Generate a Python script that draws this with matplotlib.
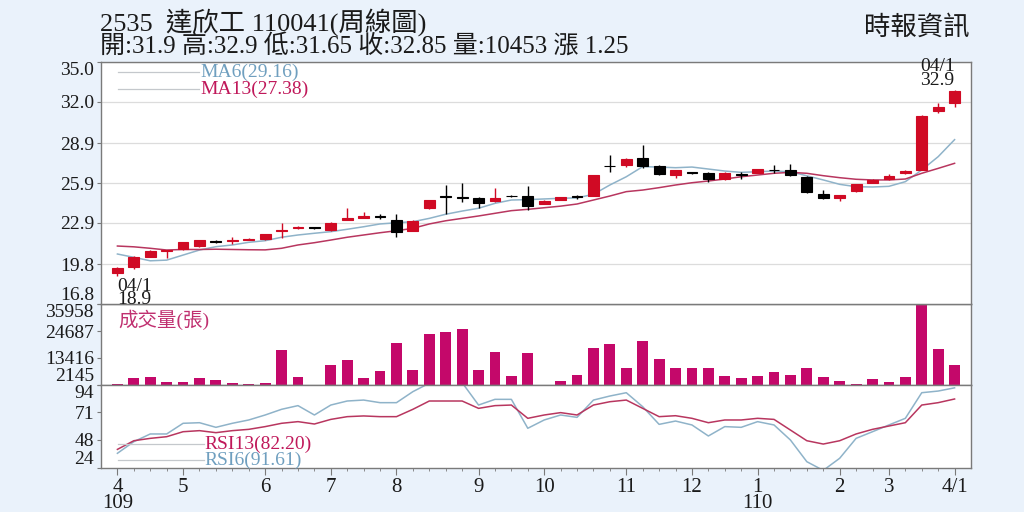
import matplotlib
matplotlib.use('Agg')
import matplotlib.pyplot as plt
import numpy as np

# fuentes: cifras en serif, chino con Noto CJK
FONT = ['Liberation Serif', 'Noto Sans CJK TC']
plt.rcParams['font.family'] = FONT

# datos semanales 109/04 - 110/04/01
opens = [19.15, 19.6, 20.36, 20.75, 20.9, 21.15, 21.55, 21.55, 21.62, 21.7,
         22.3, 22.5, 22.6, 22.35, 23.15, 23.3, 23.4, 23.15, 22.3, 24.05,
         24.9, 24.85, 24.8, 24.55, 24.95, 24.95, 24.35, 24.62, 24.9, 24.95,
         27.2, 27.25, 27.75, 27.2, 26.5, 26.75, 26.65, 26.2, 26.55, 26.67,
         26.9, 26.9, 26.35, 25.05, 24.75, 25.3, 25.92, 26.18, 26.63, 26.9,
         31.35, 31.9]
highs = [19.6, 20.4, 20.85, 20.85, 21.5, 21.65, 21.65, 21.85, 21.8, 22.1,
         22.9, 22.65, 22.6, 23.0, 24.0, 23.7, 23.6, 23.55, 23.1, 24.65,
         25.75, 25.9, 24.85, 25.5, 25.0, 25.65, 24.6, 24.85, 25.0, 26.5,
         28.0, 27.8, 28.75, 27.25, 26.9, 26.75, 26.7, 26.7, 26.75, 26.95,
         27.25, 27.3, 26.4, 25.35, 25.0, 25.85, 26.2, 26.55, 26.85, 31.0,
         31.95, 32.9]
lows = [18.9, 19.4, 20.3, 20.25, 20.85, 21.1, 21.4, 21.35, 21.6, 21.65,
        21.8, 22.45, 22.45, 22.3, 23.1, 23.3, 23.2, 21.85, 22.3, 23.95,
        23.6, 24.45, 24.0, 24.45, 24.85, 23.85, 24.3, 24.6, 24.7, 24.9,
        26.7, 27.1, 27.0, 26.5, 26.25, 26.6, 26.0, 26.15, 26.2, 26.65,
        26.65, 26.45, 25.15, 24.7, 24.55, 25.25, 25.9, 26.15, 26.6, 26.85,
        31.15, 31.65]
closes = [19.5, 20.3, 20.8, 20.85, 21.45, 21.6, 21.5, 21.65, 21.72, 22.05,
          22.4, 22.6, 22.5, 22.9, 23.3, 23.4, 23.35, 22.25, 23.05, 24.6,
          24.85, 24.8, 24.4, 24.8, 24.9, 24.15, 24.55, 24.82, 24.85, 26.5,
          27.15, 27.7, 27.2, 26.55, 26.85, 26.65, 26.2, 26.65, 26.5, 26.92,
          26.85, 26.5, 25.2, 24.75, 25.0, 25.8, 26.12, 26.45, 26.8, 30.95,
          31.6, 32.85]
ma6 = [20.56, 20.31, 20.05, 20.1, 20.48, 20.86, 21.11, 21.24, 21.44, 21.56,
       21.82, 21.99, 22.12, 22.24, 22.42, 22.61, 22.82, 22.91, 22.99, 23.24,
       23.55, 23.79, 24.0, 24.37, 24.62, 24.65, 24.7, 24.75, 24.78, 25.05,
       25.75, 26.37, 27.13, 27.1, 27.05, 27.1, 26.95, 26.8, 26.7, 26.75,
       26.8, 26.75, 26.44, 26.13, 25.8, 25.62, 25.6, 25.65, 26.0, 26.88,
       27.88, 29.16]
ma13 = [21.16, 21.1, 20.99, 20.86, 20.9, 20.9, 20.92, 20.9, 20.88, 20.87,
        20.99, 21.24, 21.41, 21.61, 21.82, 21.99, 22.16, 22.31, 22.49, 22.82,
        23.06, 23.24, 23.42, 23.62, 23.82, 23.92, 24.04, 24.16, 24.32, 24.62,
        24.92, 25.25, 25.37, 25.55, 25.75, 25.92, 26.05, 26.2, 26.37, 26.5,
        26.63, 26.7, 26.63, 26.45, 26.3, 26.18, 26.13, 26.13, 26.2, 26.63,
        27.0, 27.38]
volume = [2560, 5205, 5480, 3540, 3540, 4930, 4230, 3120, 2560, 2840,
          16610, 5345, 2200, 10630, 12440, 5205, 7990, 19530, 8540, 23290,
          24260, 25650, 8265, 16055, 5900, 15360, 2145, 3815, 6320, 17720,
          19390, 9240, 20650, 12990, 9240, 9240, 9240, 6040, 4930, 6040,
          7710, 6460, 9100, 5345, 3815, 2420, 4650, 3260, 5345, 35958,
          17300, 10453]
rsi6 = [36.4, 46.2, 52.7, 52.7, 61.7, 62.2, 58.3, 61.7, 64.5, 68.7,
        73.5, 76.6, 68.7, 77.1, 80.5, 81.3, 79.1, 79.1, 88.4, 95.5,
        97.0, 96.0, 77.1, 81.9, 81.9, 57.5, 64.5, 68.7, 66.7, 81.3,
        84.7, 87.5, 75.7, 60.8, 63.6, 60.3, 51.0, 58.9, 58.3, 63.1,
        60.3, 47.6, 29.3, 22.0, 32.2, 49.0, 54.6, 60.3, 65.9, 87.5,
        88.9, 91.61]
rsi13 = [39.7, 47.0, 49.0, 50.4, 54.6, 55.5, 53.8, 55.5, 56.6, 58.9,
         61.7, 63.1, 61.1, 65.0, 67.3, 67.9, 67.3, 67.3, 73.5, 80.5,
         80.5, 80.5, 74.3, 76.6, 77.1, 65.9, 68.7, 70.7, 68.7, 77.1,
         79.9, 81.3, 74.3, 67.3, 68.1, 65.9, 62.2, 64.5, 64.5, 65.9,
         65.0, 56.0, 47.0, 44.2, 47.0, 52.7, 56.6, 59.4, 62.2, 77.1,
         79.1, 82.20]

month_pos = [0, 4, 9, 13, 17, 22, 26, 31, 35, 39, 44, 47, 51]
month_labels = ['4\n109', '5', '6', '7', '8', '9', '10', '11', '12',
                '1\n110', '2', '3', '4/1']
price_ticks = [16.8, 19.8, 22.9, 25.9, 28.9, 32.0, 35.0]
vol_ticks = [2145, 13416, 24687, 35958]
rsi_ticks = [24, 48, 71, 94]
low_date = '04/1'
high_date = '04/1'

RED = '#d00a24'
BAR = '#c4086a'
C_MA6 = '#8fb3c9'
C_MA13 = '#b8365f'
TXT = '#1a1a1a'
GRIS = '#7a7a7a'

o = np.array(opens); h = np.array(highs); l = np.array(lows); c = np.array(closes)
x = np.arange(len(c))

fig = plt.figure(figsize=(10.24, 5.12), dpi=100, facecolor='#eaf2fb')
L, W = 101 / 1024, 870 / 1024
ax_p = fig.add_axes([L, 1 - 304 / 512, W, 242 / 512])
ax_v = fig.add_axes([L, 1 - 385 / 512, W, 81 / 512], sharex=ax_p)
ax_r = fig.add_axes([L, 1 - 468 / 512, W, 83 / 512], sharex=ax_p)
ax_p.set_zorder(3)

# velas
colors = np.where(c >= o, RED, 'black')
ax_p.vlines(x, l, h, colors=colors, lw=1, zorder=3)
ax_p.bar(x, np.abs(c - o), bottom=np.minimum(o, c), width=0.66,
         color=colors, edgecolor=colors, lw=0.8, zorder=4)
ax_p.plot(x, ma6, color=C_MA6, lw=1.1, zorder=2)
ax_p.plot(x, ma13, color=C_MA13, lw=1.1, zorder=2)
ax_p.set_ylim(price_ticks[0], price_ticks[-1])
ax_p.set_yticks(price_ticks, [f'{v:.1f}' for v in price_ticks])
ax_p.grid(axis='y', color='#dcdcdc', lw=0.9)
ax_p.set_axisbelow(True)

# leyenda MA
for yy, lab, col in [(0.959, f'MA6({ma6[-1]:.2f})', '#6f9fbf'),
                     (0.888, f'MA13({ma13[-1]:.2f})', '#c0185a')]:
    ax_p.plot([0.0195, 0.113], [yy, yy], transform=ax_p.transAxes,
              color='#c4c8cc', lw=0.9)
    ax_p.text(0.114, yy, lab, transform=ax_p.transAxes, color=col,
              fontsize=14, va='center', ha='left')

# min y max
imin = int(np.argmin(l)); imax = int(np.argmax(h))
ax_p.annotate(f'{low_date}\n{l[imin]:.1f}', xy=(imin, l[imin]), xytext=(0, -1.5),
              textcoords='offset points', ha='left', va='top', fontsize=14,
              linespacing=0.7, color=TXT)
ax_p.annotate(f'{high_date}\n{h[imax]:.1f}', xy=(imax, h[imax]), xytext=(0, 1),
              textcoords='offset points', ha='right', va='bottom', fontsize=14,
              linespacing=0.7, color=TXT, annotation_clip=False)

# volumen
ax_v.bar(x, volume, width=0.66, color=BAR)
ax_v.set_ylim(vol_ticks[0], vol_ticks[-1])
ax_v.set_yticks(vol_ticks, [str(v) for v in vol_ticks])
ax_v.text(0.0195, 0.93, '成交量(張)', transform=ax_v.transAxes, color='#c03070',
          fontsize=14, va='top', ha='left')

# RSI
ax_r.plot(x, rsi6, color=C_MA6, lw=1.1)
ax_r.plot(x, rsi13, color=C_MA13, lw=1.1)
ax_r.set_ylim(rsi_ticks[0], rsi_ticks[-1])
ax_r.set_yticks(rsi_ticks, [str(v) for v in rsi_ticks])
for yy, lab, col in [(0.289, f'RSI13({rsi13[-1]:.2f})', '#c0185a'),
                     (0.096, f'RSI6({rsi6[-1]:.2f})', '#6f9fbf')]:
    ax_r.plot([0.0195, 0.118], [yy, yy], transform=ax_r.transAxes,
              color='#c4c8cc', lw=0.9)
    ax_r.text(0.119, yy, lab, transform=ax_r.transAxes, color=col,
              fontsize=14, va='center', ha='left')

ax_r.set_xlim(-1, len(c))
ax_r.set_xticks(month_pos, month_labels)
ax_r.set_xticks(x, minor=True)
ax_r.tick_params(axis='x', which='major', length=5, pad=2, labelsize=15,
                 color=GRIS, labelcolor=TXT)
ax_r.tick_params(axis='x', which='minor', length=2, color=GRIS)
for lbl in ax_r.get_xticklabels():
    lbl.set_linespacing(0.8)

for ax in (ax_p, ax_v, ax_r):
    ax.set_facecolor('white')
    for s in ax.spines.values():
        s.set_color(GRIS)
        s.set_linewidth(1)
    ax.tick_params(axis='y', length=3, pad=2, labelsize=14, color=GRIS,
                   labelcolor=TXT)
    labs = ax.get_yticklabels()
    labs[0].set_va('bottom')
    labs[-1].set_va('top')
for ax in (ax_p, ax_v):
    ax.tick_params(axis='x', which='both', bottom=False, labelbottom=False)

# cabecera
fig.text(100 / 1024, 1 - 22 / 512, '2535  達欣工 110041(周線圖)', fontsize=19,
         va='center', ha='left', color=TXT)
chg = c[-1] - c[-2]
fig.text(100 / 1024, 1 - 46 / 512,
         f'開:{o[-1]:g} 高:{h[-1]:g} 低:{l[-1]:g} 收:{c[-1]:g} '
         f'量:{volume[-1]} 漲 {chg:.2f}',
         fontsize=18, va='center', ha='left', color=TXT)
fig.text(970 / 1024, 1 - 27 / 512, '時報資訊', fontsize=19, va='center',
         ha='right', color=TXT)

fig.savefig('out.png', dpi=100, facecolor=fig.get_facecolor())
